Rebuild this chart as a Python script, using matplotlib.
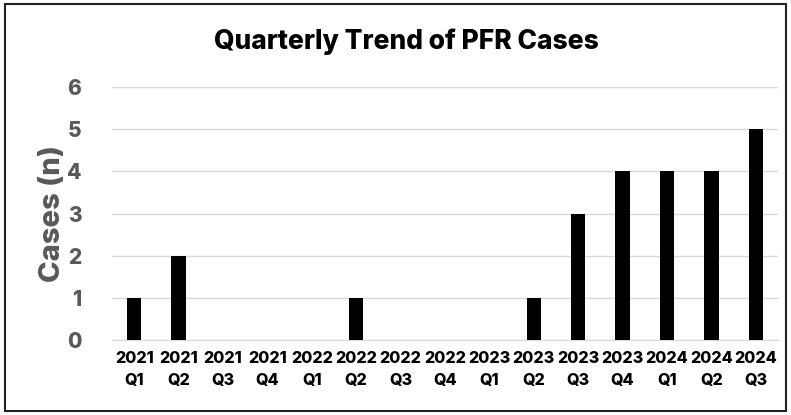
import matplotlib
matplotlib.use("Agg")
import matplotlib.pyplot as plt
from matplotlib.patches import Rectangle

categories = ["2021\nQ1", "2021\nQ2", "2021\nQ3", "2021\nQ4",
              "2022\nQ1", "2022\nQ2", "2022\nQ3", "2022\nQ4",
              "2023\nQ1", "2023\nQ2", "2023\nQ3", "2023\nQ4",
              "2024\nQ1", "2024\nQ2", "2024\nQ3"]
cases = [1, 2, 0, 0, 0, 1, 0, 0, 0, 1, 3, 4, 4, 4, 5]
yticks = [0, 1, 2, 3, 4, 5, 6]

plt.rcParams['font.family'] = ['Inter', 'DejaVu Sans']

fig = plt.figure(figsize=(7.91, 4.15), dpi=100)
ax = fig.add_axes([112/791, 1 - 340/415, 666/791, 253/415])

x = list(range(len(categories)))
ax.bar(x, cases, width=0.32, color='black', zorder=3)
ax.set_xlim(-0.5, len(categories) - 0.5)
ax.set_ylim(0, 6)
ax.set_yticks(yticks)
ax.set_yticklabels([str(t) for t in yticks], fontsize=15, fontweight=800, color='#595959')
ax.set_xticks(x)
ax.set_xticklabels(categories, fontsize=11.6, fontweight=800, color='black', linespacing=1.6)
ax.tick_params(axis='both', length=0)
ax.tick_params(axis='y', pad=22)
ax.tick_params(axis='x', pad=8)
ax.grid(axis='y', color='#d9d9d9', linewidth=1, zorder=0)
for s in ['top', 'right', 'left']:
    ax.spines[s].set_visible(False)
ax.spines['bottom'].set_color('#d9d9d9')
ax.set_ylabel("Cases (n)", fontsize=21, fontweight=800, color='#595959')
ax.yaxis.set_label_coords(-46/666, (340 - 213)/253)

fig.text(406/791, 1 - 42/415, "Quarterly Trend of PFR Cases", ha='center', va='center',
         fontsize=19, fontweight=800, color='black')

fig.patches.append(Rectangle((5/791, 4/415), 781/791, 407/415, transform=fig.transFigure,
                             fill=False, edgecolor='#222222', linewidth=1.5))

fig.savefig("out.png", dpi=100, facecolor='white')
